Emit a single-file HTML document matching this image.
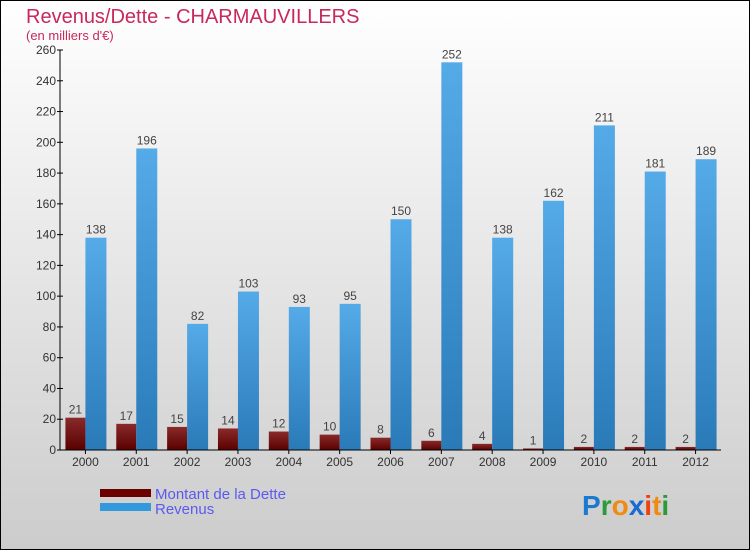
<!DOCTYPE html>
<html><head><meta charset="utf-8"><style>
body{margin:0;width:750px;height:550px;overflow:hidden}
svg{display:block}
</style></head><body>
<svg width="750" height="550" viewBox="0 0 750 550" xmlns="http://www.w3.org/2000/svg" font-family="'Liberation Sans', sans-serif">
<defs>
<linearGradient id="bg" x1="0" y1="0" x2="0" y2="1"><stop offset="0" stop-color="#ffffff"/><stop offset="1" stop-color="#cccccc"/></linearGradient>
<linearGradient id="rb" x1="0" y1="0" x2="0" y2="1"><stop offset="0" stop-color="#8a2a2a"/><stop offset="1" stop-color="#5a0000"/></linearGradient>
<linearGradient id="bb" x1="0" y1="0" x2="0" y2="1"><stop offset="0" stop-color="#55aae8"/><stop offset="1" stop-color="#2a7ab8"/></linearGradient>
</defs>
<rect x="0.5" y="0.5" width="749" height="549" fill="url(#bg)" stroke="#000"/>
<text x="26" y="23" font-size="20" fill="#c8285a">Revenus/Dette - CHARMAUVILLERS</text>
<text x="26" y="40" font-size="13" fill="#c8285a">(en milliers d'€)</text>
<g id="plot"></g>
<g>
<rect x="100" y="489" width="51" height="8" fill="#6a0000"/>
<text x="155" y="499" font-size="15" fill="#5a5af0">Montant de la Dette</text>
<rect x="100" y="503" width="51" height="8" fill="#3399dd"/>
<text x="155" y="514" font-size="15" fill="#5a5af0">Revenus</text>
</g>
<g font-size="28" font-weight="bold">
<text x="582" y="515"><tspan fill="#1a7ad0">P</tspan><tspan fill="#2a9a3a">r</tspan><tspan fill="#f08a10">o</tspan><tspan fill="#1a6ad0">x</tspan><tspan fill="#f04010">i</tspan><tspan fill="#f08a10">t</tspan><tspan fill="#2a9a3a">i</tspan></text>
</g>
</svg>
<script>
const years=["2000","2001","2002","2003","2004","2005","2006","2007","2008","2009","2010","2011","2012"];
const dette=[21,17,15,14,12,10,8,6,4,1,2,2,2];
const revenus=[138,196,82,103,93,95,150,252,138,162,211,181,189];
const yTicks=[0,20,40,60,80,100,120,140,160,180,200,220,240,260];
const NS="http://www.w3.org/2000/svg";
const g=document.getElementById('plot');
const x0=60,x1=721,y0=450,y1=50,ymax=260;
const step=(x1-x0)/years.length;
const Y=v=>y0-(v/ymax)*(y0-y1);
const cx=i=>x0+step*(i+0.5);
function mk(t,a,txt){const e=document.createElementNS(NS,t);for(const k in a)e.setAttribute(k,a[k]);if(txt!==undefined)e.textContent=txt;g.appendChild(e);return e;}
years.forEach((yr,i)=>{
 const c=cx(i);
 let r=mk('rect',{x:c-20,y:Y(dette[i]),width:20,height:y0-Y(dette[i]),fill:'url(#rb)'});
 
 
 let b=mk('rect',{x:c,y:Y(revenus[i]),width:21,height:y0-Y(revenus[i]),fill:'url(#bb)'});
 
 
 let t1=mk('text',{x:c-10,y:Y(dette[i])-4,'font-size':12,fill:'#444','text-anchor':'middle'},dette[i]);
 
 
 let t2=mk('text',{x:c+10.5,y:Y(revenus[i])-4,'font-size':12,fill:'#444','text-anchor':'middle'},revenus[i]);
 
 
 let tk=mk('line',{x1:c,x2:c,y1:y0,y2:y0+4,stroke:'#000'});
 
 
 let xl=mk('text',{x:c,y:y0+16,'font-size':12,fill:'#333','text-anchor':'middle'},yr);
 
 
});
yTicks.forEach(v=>{
 let l=mk('line',{x1:x0-3,x2:x0+3,y1:Y(v),y2:Y(v),stroke:'#000'});
 
 
 let t=mk('text',{x:x0-4,y:Y(v)+4,'font-size':12,fill:'#333','text-anchor':'end'},v);
 
 
});
let ya=mk('line',{x1:x0,x2:x0,y1:y1,y2:y0,stroke:'#000'});


let xa=mk('line',{x1:x0-3,x2:x1,y1:y0,y2:y0,stroke:'#000'});


</script>
</body></html>
